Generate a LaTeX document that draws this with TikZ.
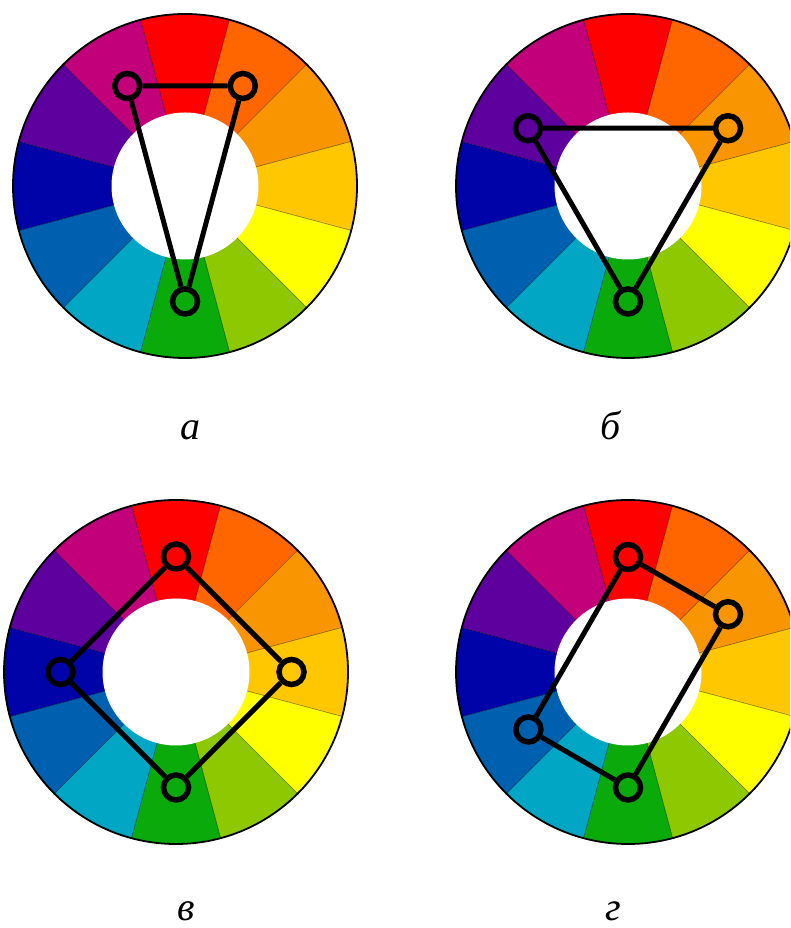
\documentclass[tikz,border=0pt]{standalone}
\usepackage{fontspec}
\setmainfont{Liberation Serif}
\usetikzlibrary{calc}
\definecolor{cwR}{HTML}{FF0000}
\definecolor{cwRO}{HTML}{FF6600}
\definecolor{cwO}{HTML}{F99500}
\definecolor{cwYO}{HTML}{FFC700}
\definecolor{cwY}{HTML}{FFFF00}
\definecolor{cwYG}{HTML}{8DC800}
\definecolor{cwG}{HTML}{0AAA0A}
\definecolor{cwBG}{HTML}{00A6C4}
\definecolor{cwB}{HTML}{0060B0}
\definecolor{cwBV}{HTML}{0004A8}
\definecolor{cwV}{HTML}{5D009E}
\definecolor{cwRV}{HTML}{C1007A}
\newcommand\cwheel[2]{%
  \foreach \col [count=\i from 0] in {cwR,cwRO,cwO,cwYO,cwY,cwYG,cwG,cwBG,cwB,cwBV,cwV,cwRV} {%
    \pgfmathsetmacro\sa{75-30*\i}%
    \pgfmathsetmacro\ea{105-30*\i}%
    \filldraw[fill=\col, draw=black, draw opacity=0.35, line width=0.6pt]
      (#1,#2) -- ++(\sa:172pt) arc[start angle=\sa, end angle=\ea, radius=172pt] -- cycle;
  }%
  \fill[white] (#1,#2) circle[radius=73.5pt];
  \draw[line width=1.8pt] (#1,#2) circle[radius=172pt];
}
\tikzset{
  marker/.style={circle, draw=black, line width=5.5pt, minimum size=25pt, inner sep=0pt},
  conn/.style={draw=black, line width=5pt},
  lab/.style={anchor=base, inner sep=0pt, font=\fontsize{40}{48}\selectfont\itshape}
}
\begin{document}
\begin{tikzpicture}[x=1pt,y=1pt]
\useasboundingbox (0,0) rectangle (790,928);
\clip (0,0) rectangle (790,928);
\fill[white] (0,0) rectangle (790,928);
% wheels
\cwheel{185}{742}
\cwheel{628}{742}
\cwheel{176}{256}
\cwheel{628}{256}
% wheel a
\node[marker] (a1) at ($(185,742)+(120:115.5)$) {};
\node[marker] (a2) at ($(185,742)+(60:115.5)$) {};
\node[marker] (a3) at ($(185,742)+(-90:115.5)$) {};
\draw[conn] (a1) -- (a2) -- (a3) -- (a1);
% wheel b
\node[marker] (b1) at ($(628,742)+(150:115.5)$) {};
\node[marker] (b2) at ($(628,742)+(30:115.5)$) {};
\node[marker] (b3) at ($(628,742)+(-90:115.5)$) {};
\draw[conn] (b1) -- (b2) -- (b3) -- (b1);
% wheel c
\node[marker] (c1) at ($(176,256)+(90:115.5)$) {};
\node[marker] (c2) at ($(176,256)+(0:115.5)$) {};
\node[marker] (c3) at ($(176,256)+(-90:115.5)$) {};
\node[marker] (c4) at ($(176,256)+(180:115.5)$) {};
\draw[conn] (c1) -- (c2) -- (c3) -- (c4) -- (c1);
% wheel d
\node[marker] (d1) at ($(628,256)+(90:115)$) {};
\node[marker] (d2) at ($(628,256)+(30:115.5)$) {};
\node[marker] (d3) at ($(628,256)+(-90:115.5)$) {};
\node[marker] (d4) at ($(628,256)+(210:115)$) {};
\draw[conn] (d1) -- (d2) -- (d3) -- (d4) -- (d1);
% labels
\node[lab] (la) at (190,488) {а};
\node[lab] (lb) at (611,488) {б};
\node[lab] (lc) at (186,7) {в};
\node[lab] (ld) at (613,7) {г};
\end{tikzpicture}
\end{document}
